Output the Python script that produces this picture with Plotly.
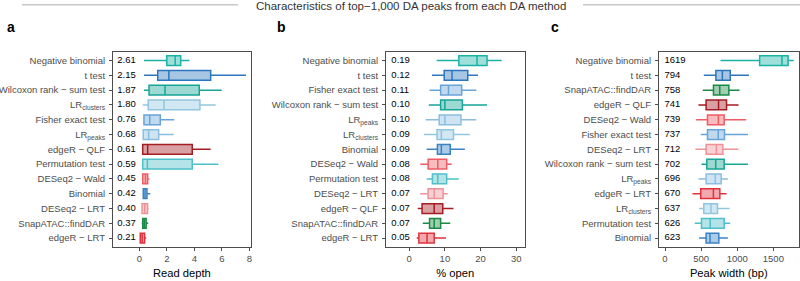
import plotly.graph_objects as go

# ---------------- data ----------------
NB, TT, WX, LRC, FE, LRP = ("Negative binomial", "t test", "Wilcoxon rank − sum test",
                            "LR<sub>clusters</sub>", "Fisher exact test", "LR<sub>peaks</sub>")
EQ, PT, DW, BI, DL, SN, EL = ("edgeR − QLF", "Permutation test", "DESeq2 − Wald", "Binomial",
                              "DESeq2 − LRT", "SnapATAC::findDAR", "edgeR − LRT")

# Panel a: read depth
order_a = [NB, TT, WX, LRC, FE, LRP, EQ, PT, DW, BI, DL, SN, EL]
med_a = [2.61, 2.15, 1.87, 1.80, 0.76, 0.68, 0.61, 0.59, 0.45, 0.42, 0.40, 0.37, 0.21]
q1_a = [2.00, 1.34, 0.71, 0.65, 0.34, 0.29, 0.25, 0.25, 0.25, 0.29, 0.20, 0.25, 0.07]
q3_a = [3.01, 5.19, 4.36, 4.41, 1.53, 1.41, 3.85, 3.85, 0.61, 0.56, 0.60, 0.50, 0.39]
lo_a = [0.34, 0.34, 0.34, 0.25, 0.29, 0.25, 0.25, 0.25, 0.20, 0.25, 0.18, 0.18, 0.03]
hi_a = [3.64, 7.76, 5.99, 5.55, 2.55, 2.50, 5.19, 5.75, 0.73, 0.80, 0.68, 0.65, 0.50]

# Panel b: % open (labels are fractions)
order_b = [NB, TT, FE, WX, LRP, LRC, BI, DW, PT, DL, EQ, SN, EL]
lab_b = [0.19, 0.12, 0.11, 0.10, 0.10, 0.09, 0.09, 0.08, 0.08, 0.07, 0.07, 0.07, 0.05]
med_b = [19.0, 12.0, 11.0, 10.0, 10.0, 9.0, 9.0, 8.0, 8.0, 7.0, 7.0, 7.0, 5.0]
q1_b = [13.9, 9.8, 8.8, 8.8, 8.4, 7.8, 7.9, 5.3, 6.5, 5.3, 3.6, 5.7, 2.7]
q3_b = [21.8, 16.4, 14.7, 14.9, 14.5, 12.4, 11.5, 10.5, 10.5, 9.5, 9.4, 8.8, 7.0]
lo_b = [7.7, 6.4, 5.7, 5.5, 4.6, 4.1, 4.9, 3.1, 4.9, 3.1, 2.4, 3.8, 2.1]
hi_b = [25.9, 19.3, 18.8, 21.8, 18.8, 17.0, 15.6, 11.9, 13.9, 10.8, 12.4, 11.5, 10.3]

# Panel c: peak width (bp)
order_c = [NB, TT, SN, EQ, DW, FE, DL, WX, LRP, EL, LRC, PT, BI]
med_c = [1619, 794, 758, 741, 739, 737, 712, 702, 696, 670, 637, 626, 623]
q1_c = [1310, 704, 671, 569, 588, 588, 569, 579, 569, 495, 537, 505, 569]
q3_c = [1704, 903, 884, 852, 819, 824, 801, 819, 778, 759, 727, 819, 745]
lo_c = [768, 537, 523, 463, 431, 495, 421, 505, 463, 380, 472, 412, 472]
hi_c = [1782, 1162, 1032, 1018, 1125, 1150, 1018, 1148, 870, 852, 894, 903, 870]

x_ticks_a = [0, 2, 4, 6, 8]
x_ticks_b = [0, 10, 20, 30]
x_ticks_c = [0, 500, 1000, 1500]

# ---------------- style ----------------
colors = {
    NB: (26, 178, 166), TT: (45, 118, 190), WX: (22, 164, 150), LRC: (146, 197, 224),
    FE: (104, 164, 216), LRP: (140, 190, 224), EQ: (165, 28, 36), PT: (79, 191, 200),
    DW: (238, 92, 100), BI: (58, 130, 198), DL: (238, 146, 152), SN: (26, 138, 70),
    EL: (224, 50, 60),
}
FONT = "Liberation Sans, Arial, sans-serif"
GRAY = "#4d4d4d"

fig = go.Figure()

panels = [
    ("", order_a, med_a, q1_a, q3_a, lo_a, hi_a, [f"{v:.2f}" for v in med_a], -1.6),
    ("2", order_b, med_b, q1_b, q3_b, lo_b, hi_b, [f"{v:.2f}" for v in lab_b], -5.0),
    ("3", order_c, med_c, q1_c, q3_c, lo_c, hi_c, [f"{v}" for v in med_c], -8),
]

for suffix, order, med, q1, q3, lo, hi, labels, lab_x in panels:
    xa = "x" + suffix
    ya = "y" + suffix
    for i, name in enumerate(order):
        r, g, b = colors[name]
        fig.add_trace(go.Box(
            y=[i], q1=[q1[i]], median=[med[i]], q3=[q3[i]],
            lowerfence=[lo[i]], upperfence=[hi[i]],
            orientation="h", width=0.66, whiskerwidth=0,
            line=dict(color=f"rgb({r},{g},{b})", width=1.5),
            fillcolor=f"rgba({r},{g},{b},0.42)",
            boxpoints=False, showlegend=False, hoverinfo="skip",
            xaxis=xa, yaxis=ya,
        ))
    fig.add_trace(go.Scatter(
        x=[lab_x] * len(order), y=list(range(len(order))), text=labels,
        mode="text", textposition="middle right",
        textfont=dict(family=FONT, size=9.5, color="black"),
        showlegend=False, hoverinfo="skip", xaxis=xa, yaxis=ya,
    ))

ydom = [1 - 247 / 281, 1 - 51.7 / 281]
common_x = dict(showline=True, mirror=True, linecolor=GRAY, linewidth=1, automargin=False,
                ticks="outside", ticklen=3, tickcolor=GRAY, showgrid=False, zeroline=False,
                tickfont=dict(family=FONT, size=9.5, color=GRAY))
common_y = dict(showline=True, mirror=True, linecolor=GRAY, linewidth=1, automargin=False,
                ticks="outside", ticklen=3, tickcolor=GRAY, showgrid=False, zeroline=False,
                range=[12.6, -0.6], domain=ydom, ticklabelstandoff=2,
                tickvals=list(range(13)),
                tickfont=dict(family=FONT, size=9.5, color=GRAY))

title_font = dict(family=FONT, size=11.2, color="black")
fig.update_layout(
    width=800, height=281,
    margin=dict(l=0, r=0, t=0, b=0, autoexpand=False),
    paper_bgcolor="white", plot_bgcolor="white",
    boxmode="overlay",
    xaxis=dict(**common_x, domain=[113 / 800, 250.7 / 800], range=[-1.91, 8.1],
               tickvals=x_ticks_a, anchor="y",
               title=dict(text="Read depth", font=title_font, standoff=5)),
    xaxis2=dict(**common_x, domain=[386 / 800, 524.5 / 800], range=[-6.5, 32.3],
                tickvals=x_ticks_b, anchor="y2",
                title=dict(text="% open", font=title_font, standoff=5)),
    xaxis3=dict(**common_x, domain=[659 / 800, 798.5 / 800], range=[-83, 1848],
                tickvals=x_ticks_c, anchor="y3",
                title=dict(text="Peak width (bp)", font=title_font, standoff=5)),
    yaxis=dict(**common_y, anchor="x", ticktext=order_a),
    yaxis2=dict(**common_y, anchor="x2", ticktext=order_b),
    yaxis3=dict(**common_y, anchor="x3", ticktext=order_c),
)

# header and panel letters
fig.add_annotation(text="Characteristics of top−1,000 DA peaks from each DA method",
                   x=410.5 / 800, y=1 - 6 / 281, xref="paper", yref="paper",
                   xanchor="center", yanchor="middle", showarrow=False,
                   font=dict(family=FONT, size=11.5, color="#333333"))
for x0, x1 in [(22, 238), (583, 800)]:
    fig.add_shape(type="line", xref="paper", yref="paper",
                  x0=x0 / 800, x1=x1 / 800, y0=1 - 4.7 / 281, y1=1 - 4.7 / 281,
                  line=dict(color="#c8c8c8", width=1.5))
for letter, px in [("a", 11), ("b", 281), ("c", 555)]:
    fig.add_annotation(text=f"<b>{letter}</b>", x=px / 800, y=1 - 27 / 281,
                       xref="paper", yref="paper", xanchor="center", yanchor="middle",
                       showarrow=False, font=dict(family=FONT, size=14, color="black"))

fig.write_html("out.html", config={"displayModeBar": False},
               post_script="document.body.style.margin='0';document.body.style.overflow='hidden';")
